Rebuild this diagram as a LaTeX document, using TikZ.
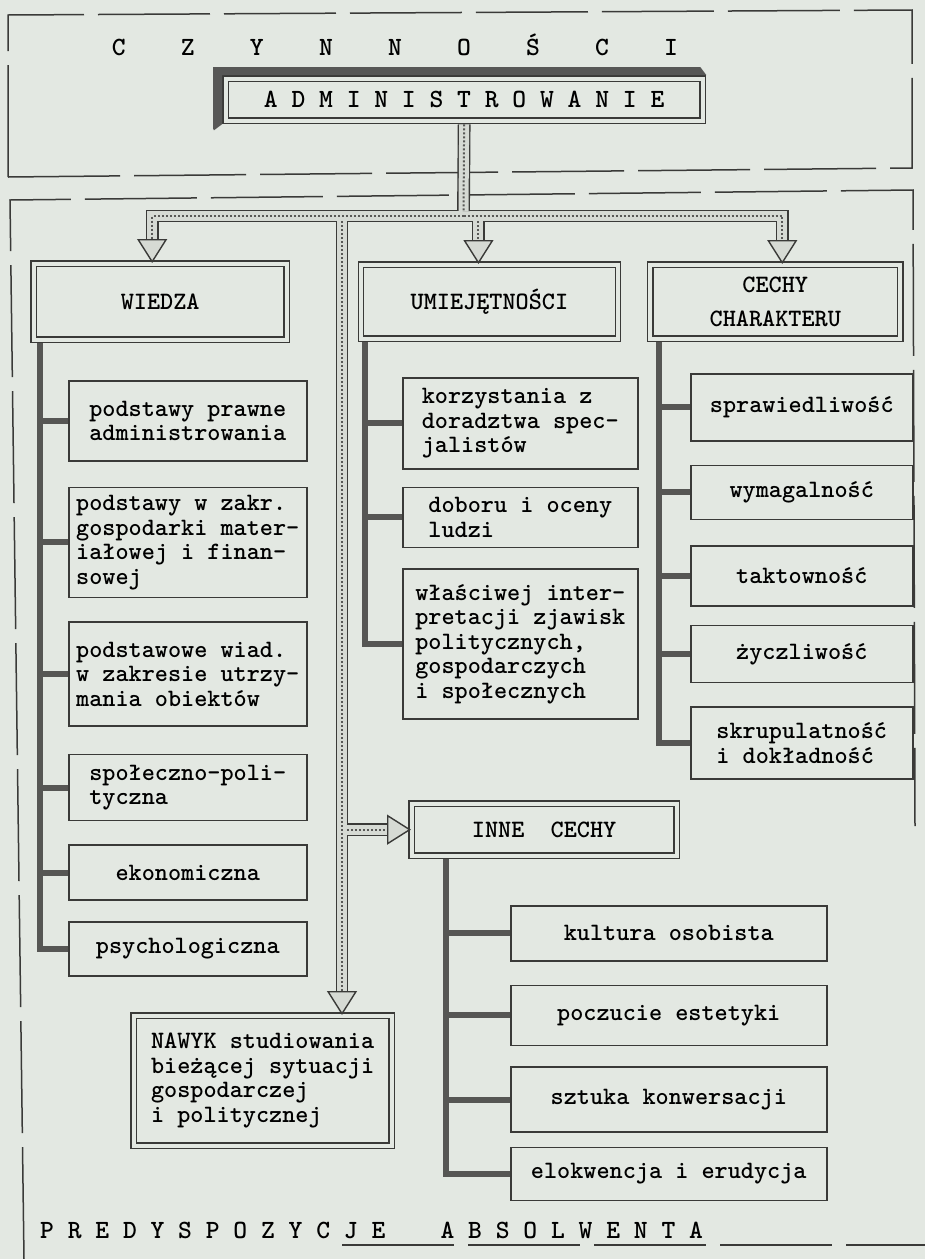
\documentclass[tikz,border=0pt]{standalone}
\usepackage{fontspec}
\usetikzlibrary{positioning,arrows.meta}
\definecolor{Paper}{RGB}{227,232,226}
\definecolor{Ink}{RGB}{58,58,56}
\definecolor{SpineGray}{RGB}{86,86,84}
\definecolor{PipeFill}{RGB}{214,218,212}
\newcommand{\bodyfont}{\ttfamily\bfseries\fontsize{25}{24.5}\selectfont}
\newcommand{\headfont}{\ttfamily\bfseries\fontsize{25}{24.5}\selectfont}
\newcommand{\titlefont}{\ttfamily\bfseries\fontsize{26.3}{26}\selectfont}
\tikzset{
  dashframe/.style={draw=Ink,line width=1.5pt,dash pattern=on 112pt off 14pt},
  headbox/.style={draw=Ink,line width=1.3pt,double=Paper,double distance=4pt,
    align=center,font=\headfont,inner sep=2pt,anchor=north west},
  subbox/.style={draw=Ink,line width=1.6pt,align=left,font=\bodyfont,
    inner xsep=2pt,inner ysep=3pt},
  wbox/.style={subbox,minimum width=238pt},
  ubox/.style={subbox,minimum width=235pt},
  cbox/.style={subbox,minimum width=222pt},
  ibox/.style={subbox,minimum width=316pt},
  spine/.style={draw=SpineGray,line width=6pt},
  pipe/.style={draw=Ink!85,line width=2pt,dash pattern=on 2pt off 2pt,
    preaction={draw=Ink,solid,line width=1.4pt,double=PipeFill,double distance=10pt}},
  pipearrow/.style={draw=Ink!85,line width=2pt,dash pattern=on 2pt off 2pt,
    -{Triangle[length=24pt 0 0,width=30pt 0 0,color=Ink,fill=PipeFill,line width=1.4pt]},
    preaction={draw=Ink,solid,-,line width=1.4pt,double=PipeFill,double distance=10pt,
      shorten >=20pt}},
  letters/.style={font=\titlefont,inner sep=0pt}
}
\begin{document}
\begin{tikzpicture}[x=1pt,y=-1pt]
  \useasboundingbox (0,0) rectangle (925,1259);
  \fill[Paper] (0,0) rectangle (925,1259);

  % dashed frames
  \draw[dashframe] (8,177) -- (8,15) -- (912,10) -- (912,168) -- cycle;
  \draw[dashframe] (24,1259) -- (10,200) -- (913,190) -- (915,826);
  \draw[dashframe] (342,1245) -- (925,1245);

  \node[letters] (czyn) at (395,45) {C~~~~Z~~~~Y~~~~N~~~~N~~~~O~~~~Ś~~~~C~~~~I};
  \node[headbox,font=\titlefont,minimum width=477pt,minimum height=42pt] (admin) at (225,78)
    {A D M I N I S T R O W A N I E};
  \fill[Ink!85] ([shift={(-12,-11)}]admin.north west) -- ([shift={(-3,-11)}]admin.north east)
    -- ([shift={(3,-3)}]admin.north east) -- ([shift={(-3,-3)}]admin.north west)
    -- ([shift={(-3,3)}]admin.south west) -- ([shift={(-11,9)}]admin.south west)
    -- ([shift={(-12,7)}]admin.south west) -- cycle;

  % headers
  \node[headbox,minimum width=253pt,minimum height=76pt] (wiedza) at (33,263) {WIEDZA};
  \node[headbox,minimum width=257pt,minimum height=74pt,right=73pt of wiedza] (umiej) {UMIEJĘTNOŚCI};
  \node[headbox,minimum width=250pt,minimum height=74pt,right=31pt of umiej] (cechy)
    {CECHY\\[10pt]CHARAKTERU};
  \node[headbox,minimum width=265pt,minimum height=52pt] (inne) at (411,803) {INNE~~CECHY};
  \node[headbox,align=left,font=\bodyfont,minimum width=258pt,minimum height=130pt] (nawyk)
    at (133,1015) {NAWYK studiowania\\bieżącej sytuacji\\gospodarczej\\i politycznej};

  % wiedza
  \node[wbox,minimum height=80pt,anchor=north west] (pp) at (68,380) {podstawy prawne\\administrowania};
  \node[wbox,minimum height=110pt,below=25pt of pp] (pz)
    {podstawy w zakr.\\gospodarki mater-\\iałowej i finan-\\sowej};
  \node[wbox,minimum height=104pt,below=23pt of pz] (pw)
    {podstawowe wiad.\\w zakresie utrzy-\\mania obiektów};
  \node[wbox,minimum height=66pt,below=27pt of pw] (sp) {społeczno-poli-\\tyczna};
  \node[wbox,minimum height=55pt,below=23pt of sp] (ek) {ekonomiczna};
  \node[wbox,minimum height=54pt,below=20pt of ek] (ps) {psychologiczna};

  % umiejetnosci
  \node[ubox,minimum height=91pt,anchor=north west] (ko) at (402,377)
    {korzystania z\\doradztwa spec-\\jalistów};
  \node[ubox,minimum height=60pt,below=17pt of ko] (db) {doboru i oceny\\ludzi};
  \node[ubox,minimum height=150pt,below=20pt of db] (wl)
    {właściwej inter-\\pretacji zjawisk\\politycznych,\\gospodarczych\\i społecznych};

  % cechy charakteru
  \node[cbox,minimum height=67pt,anchor=north west] (spr) at (690,373) {sprawiedliwość};
  \node[cbox,minimum height=54pt,below=23pt of spr] (wym) {wymagalność};
  \node[cbox,minimum height=60pt,below=25pt of wym] (tak) {taktowność};
  \node[cbox,minimum height=57pt,below=18pt of tak] (zyc) {życzliwość};
  \node[cbox,minimum height=72pt,below=23pt of zyc] (skr) {skrupulatność\\i dokładność};

  % inne cechy
  \node[ibox,minimum height=55pt,anchor=north west] (kul) at (510,905) {kultura osobista};
  \node[ibox,minimum height=60pt,below=23pt of kul] (est) {poczucie estetyki};
  \node[ibox,minimum height=65pt,below=20pt of est] (kon) {sztuka konwersacji};
  \node[ibox,minimum height=53pt,below=14pt of kon] (elo) {elokwencja i erudycja};

  \node[letters,anchor=base west] (absol) at (40,1238)
    {P R E D Y S P O Z Y C J E~~~~A B S O L W E N T A};

  % spines
  \foreach \b in {pp,pz,pw,sp,ek,ps}
    \draw[spine] ([xshift=7pt,yshift=-3pt]wiedza.south west) |- (\b.west);
  \foreach \b in {ko,db,wl}
    \draw[spine] ([xshift=5pt,yshift=-3pt]umiej.south west) |- (\b.west);
  \foreach \b in {spr,wym,tak,zyc,skr}
    \draw[spine] ([xshift=9pt,yshift=-3pt]cechy.south west) |- (\b.west);
  \foreach \b in {kul,est,kon,elo}
    \draw[spine] ([xshift=35pt,yshift=-3pt]inne.south west) |- (\b.west);

  % pipes
  \coordinate (bar) at (463.5,216);
  \coordinate (trunk) at (342,216);
  \coordinate (wtip) at ([xshift=-8pt]wiedza.north);
  \coordinate (utip) at ([xshift=-11pt]umiej.north);
  \coordinate (ctip) at ([xshift=7pt]cechy.north);
  \coordinate (ufoot) at (utip |- bar);
  \coordinate (ifoot) at (trunk |- inne.west);
  \draw[pipearrow] (bar) -| (wtip);
  \draw[pipearrow] (bar) -| (ctip);
  \draw[pipearrow] ([yshift=-5pt]ufoot) -- (utip);
  \draw[pipearrow] ([yshift=-5pt]trunk) -- (trunk |- nawyk.north);
  \draw[pipearrow] ([xshift=5pt]ifoot) -- (inne.west);
  \draw[pipe] ([yshift=-3pt]admin.south) -- ([yshift=5pt]bar);
\end{tikzpicture}
\end{document}
